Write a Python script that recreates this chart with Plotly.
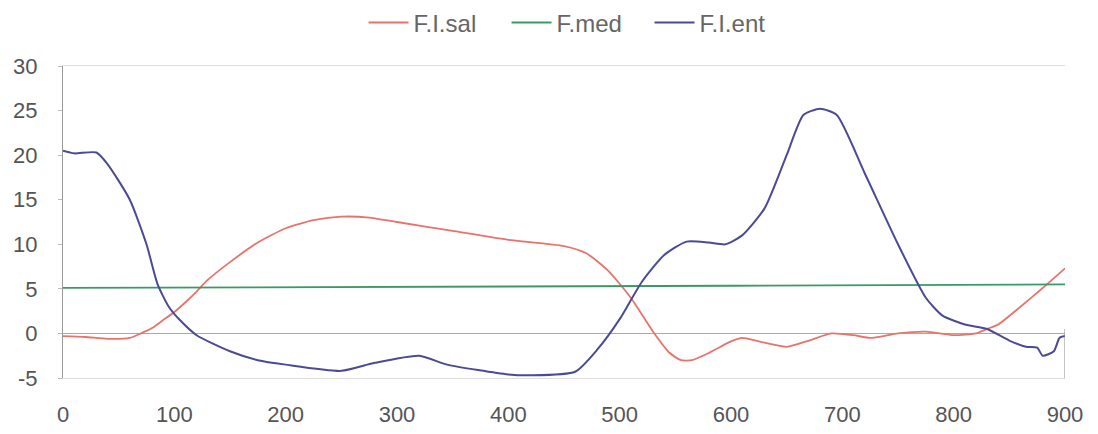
import plotly.graph_objects as go

x_sal = [0, 20, 40, 60, 70, 80, 90, 100, 110, 120, 130, 150, 175, 200, 225, 250, 275, 300, 350, 400, 450, 470, 490, 510, 530, 545, 555, 565, 580, 600, 610, 625, 650, 670, 690, 710, 725, 750, 775, 800, 820, 830, 840, 860, 880, 900]
y_sal = [-0.3, -0.4, -0.6, -0.5, 0.0, 0.6, 1.5, 2.4, 3.5, 4.7, 6.0, 8.0, 10.2, 11.8, 12.7, 13.1, 13.0, 12.5, 11.5, 10.5, 9.8, 9.0, 7.0, 4.0, 0.2, -2.2, -3.0, -3.0, -2.2, -0.9, -0.5, -0.9, -1.5, -0.8, 0.0, -0.2, -0.5, 0.0, 0.2, -0.2, 0.0, 0.5, 1.0, 3.0, 5.1, 7.3]

x_med = [0, 300, 600, 900]
y_med = [5.1, 5.2, 5.35, 5.5]

x_ent = [0, 10, 30, 40, 60, 75, 85, 95, 105, 120, 150, 175, 200, 250, 280, 320, 345, 400, 420, 460, 480, 500, 520, 540, 560, 580, 595, 610, 630, 650, 665, 680, 695, 720, 750, 775, 790, 810, 830, 850, 865, 875, 880, 890, 895, 900]
y_ent = [20.5, 20.2, 20.3, 19.0, 15.0, 10.0, 5.5, 3.0, 1.5, -0.2, -2.0, -3.0, -3.5, -4.2, -3.3, -2.5, -3.5, -4.6, -4.7, -4.3, -1.8, 1.6, 5.8, 8.8, 10.3, 10.2, 10.0, 11.0, 14.0, 20.0, 24.5, 25.2, 24.5, 18.0, 10.0, 4.0, 2.0, 1.0, 0.5, -0.8, -1.5, -1.6, -2.5, -2.0, -0.5, -0.3]

x_ticks = [0, 100, 200, 300, 400, 500, 600, 700, 800, 900]
y_ticks = [-5, 0, 5, 10, 15, 20, 25, 30]

fig = go.Figure()
fig.add_trace(go.Scatter(x=x_sal, y=y_sal, mode="lines", name="F.I.sal",
                         line=dict(color="#e8736c", width=1.8, shape="spline", smoothing=0.6)))
fig.add_trace(go.Scatter(x=x_med, y=y_med, mode="lines", name="F.med",
                         line=dict(color="#3a9a66", width=1.8)))
fig.add_trace(go.Scatter(x=x_ent, y=y_ent, mode="lines", name="F.I.ent",
                         line=dict(color="#4a4a96", width=2, shape="spline", smoothing=0.6)))

font = dict(family="Liberation Sans, Arial, sans-serif", size=22, color="#555555")

fig.update_layout(
    width=1090, height=426,
    margin=dict(l=55, r=33, t=58, b=56, autoexpand=False),
    paper_bgcolor="white", plot_bgcolor="white",
    font=font,
    showlegend=True,
    legend=dict(orientation="h", x=0.514, xanchor="center", y=0.965, yref="container",
                yanchor="middle", font=dict(family="Liberation Sans, Arial, sans-serif", size=24, color="#666666"),
                itemwidth=40, tracegroupgap=0, entrywidth=88, entrywidthmode="pixels"),
    xaxis=dict(range=[0, 900], tickvals=x_ticks, ticktext=[str(v) for v in x_ticks],
               showgrid=False, zeroline=False, showline=True, linecolor="#dddddd", linewidth=1,
               mirror=True, ticks="", ticklabelstandoff=17, automargin=False),
    yaxis=dict(range=[-5, 30], tickvals=y_ticks, ticktext=[str(v) for v in y_ticks],
               showgrid=False, zeroline=True, zerolinecolor="#aaaaaa", zerolinewidth=1,
               showline=True, linecolor="#999999", linewidth=1, ticks="outside", ticklen=4,
               tickcolor="#bbbbbb", ticklabelstandoff=16, automargin=False),
)
fig.add_shape(type="line", xref="x", yref="y", x0=900, x1=900, y0=-5, y1=0.5,
              line=dict(color="#888888", width=1))
fig.write_html("out.html")
